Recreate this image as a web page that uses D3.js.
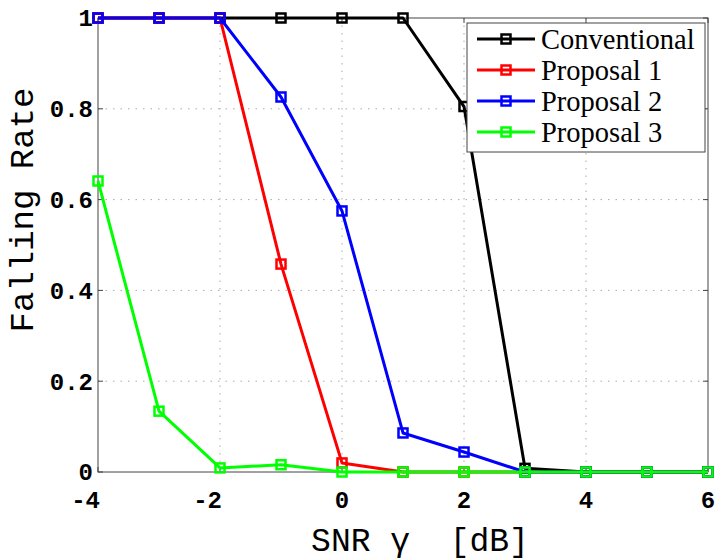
<!DOCTYPE html>
<html>
<head>
<meta charset="utf-8">
<script src="https://cdn.jsdelivr.net/npm/d3@7"></script>
<style>
    body { margin: 0; background: #fff; }
    svg { display: block; }
</style>
</head>
<body>
<div id="chart"></div>
<script>
// SNR values (dB) shared by every series
const snr = [-4, -3, -2, -1, 0, 1, 2, 3, 4, 5, 6];

// Falling rate per method
const conventional = [1, 1, 1, 1, 1, 1, 0.805, 0.008, 0, 0, 0];
const proposal1 = [1, 1, 1, 0.458, 0.02, 0, 0, 0, 0, 0, 0];
const proposal2 = [1, 1, 1, 0.826, 0.575, 0.086, 0.044, 0, 0, 0, 0];
const proposal3 = [0.641, 0.134, 0.009, 0.016, 0, 0, 0, 0, 0, 0, 0];

const seriesNames = ['Conventional', 'Proposal 1', 'Proposal 2', 'Proposal 3'];
const seriesColors = ['#000000', '#ff0000', '#0000ff', '#00ff00'];

const xTicks = [-4, -2, 0, 2, 4, 6];
const yTicks = [0, 0.2, 0.4, 0.6, 0.8, 1];

const Chart = (function() {
    const width = 715;
    const height = 560;
    const margin = { top: 18, right: 7, bottom: 88, left: 98 };
    const monoFont = "'Liberation Mono', 'DejaVu Sans Mono', monospace";
    const serifFont = "'Liberation Serif', 'DejaVu Serif', serif";

    /**
     * Draw the whole figure
     */
    function draw(containerId) {
        const svg = d3.select(`#${containerId}`)
            .append('svg')
            .attr('width', width)
            .attr('height', height);

        const innerW = width - margin.left - margin.right;
        const innerH = height - margin.top - margin.bottom;

        const x = d3.scaleLinear().domain([-4, 6]).range([0, innerW]);
        const y = d3.scaleLinear().domain([0, 1]).range([innerH, 0]);

        const g = svg.append('g')
            .attr('transform', `translate(${margin.left},${margin.top})`);

        // Dotted grid
        g.append('g')
            .selectAll('line')
            .data(xTicks.slice(1, -1))
            .enter()
            .append('line')
            .attr('x1', d => x(d)).attr('x2', d => x(d))
            .attr('y1', 0).attr('y2', innerH)
            .style('stroke', '#aaa')
            .style('stroke-width', 1)
            .style('stroke-dasharray', '1.5,6');

        g.append('g')
            .selectAll('line')
            .data(yTicks.slice(1, -1))
            .enter()
            .append('line')
            .attr('x1', 0).attr('x2', innerW)
            .attr('y1', d => y(d)).attr('y2', d => y(d))
            .style('stroke', '#aaa')
            .style('stroke-width', 1)
            .style('stroke-dasharray', '1.5,6');

        // Box
        g.append('rect')
            .attr('width', innerW)
            .attr('height', innerH)
            .style('fill', 'none')
            .style('stroke', '#444')
            .style('stroke-width', 1);

        // Inward ticks on all four sides
        const ticks = g.append('g').style('stroke', '#444').style('stroke-width', 1);
        xTicks.forEach(t => {
            ticks.append('line').attr('x1', x(t)).attr('x2', x(t)).attr('y1', innerH).attr('y2', innerH - 5);
            ticks.append('line').attr('x1', x(t)).attr('x2', x(t)).attr('y1', 0).attr('y2', 5);
        });
        yTicks.forEach(t => {
            ticks.append('line').attr('x1', 0).attr('x2', 5).attr('y1', y(t)).attr('y2', y(t));
            ticks.append('line').attr('x1', innerW).attr('x2', innerW - 5).attr('y1', y(t)).attr('y2', y(t));
        });

        // Tick labels
        g.append('g')
            .selectAll('text')
            .data(xTicks)
            .enter()
            .append('text')
            .attr('x', d => d < 0 ? x(d) + 2 : x(d))
            .attr('y', innerH + 36)
            .attr('text-anchor', d => d < 0 ? 'end' : 'middle')
            .style('font-family', monoFont)
            .style('font-weight', 'bold')
            .style('font-size', '24px')
            .text(d => d);

        g.append('g')
            .selectAll('text')
            .data(yTicks)
            .enter()
            .append('text')
            .attr('x', -5)
            .attr('y', d => y(d))
            .attr('dy', '0.35em')
            .attr('text-anchor', 'end')
            .style('font-family', monoFont)
            .style('font-weight', 'bold')
            .style('font-size', '24px')
            .text(d => d3.format('~g')(d));

        // Axis labels
        svg.append('text')
            .attr('x', 420)
            .attr('y', 551)
            .attr('text-anchor', 'middle')
            .attr('xml:space', 'preserve')
            .style('white-space', 'pre')
            .style('font-family', monoFont)
            .style('font-size', '33px')
            .text('SNR γ  [dB]');

        svg.append('text')
            .attr('transform', 'translate(33,210) rotate(-90)')
            .attr('text-anchor', 'middle')
            .style('font-family', monoFont)
            .style('font-size', '34px')
            .text('Falling Rate');

        // Series
        const allSeries = [conventional, proposal1, proposal2, proposal3];
        const line = d3.line()
            .x((d, i) => x(snr[i]))
            .y(d => y(d));

        allSeries.forEach((values, k) => {
            const s = g.append('g');
            s.append('path')
                .datum(values)
                .attr('d', line)
                .style('fill', 'none')
                .style('stroke', seriesColors[k])
                .style('stroke-width', 3)
                .style('stroke-linejoin', 'round');

            s.selectAll('rect')
                .data(values)
                .enter()
                .append('rect')
                .attr('x', (d, i) => x(snr[i]) - 4.5)
                .attr('y', d => y(d) - 4.5)
                .attr('width', 9)
                .attr('height', 9)
                .style('fill', 'none')
                .style('stroke', seriesColors[k])
                .style('stroke-width', 2.5);
        });

        drawLegend(svg);
    }

    /**
     * Legend box in the upper right corner
     */
    function drawLegend(svg) {
        const lg = svg.append('g').attr('transform', 'translate(467,23)');

        lg.append('rect')
            .attr('width', 238)
            .attr('height', 129)
            .style('fill', '#fff')
            .style('stroke', '#444')
            .style('stroke-width', 1);

        const rows = lg.selectAll('.legend-row')
            .data(seriesNames)
            .enter()
            .append('g')
            .attr('class', 'legend-row')
            .attr('transform', (d, i) => `translate(0,${16 + i * 31})`);

        rows.append('line')
            .attr('x1', 10).attr('x2', 68)
            .style('stroke', (d, i) => seriesColors[i])
            .style('stroke-width', 3);

        rows.append('rect')
            .attr('x', 34.5).attr('y', -4.5)
            .attr('width', 9).attr('height', 9)
            .style('fill', 'none')
            .style('stroke', (d, i) => seriesColors[i])
            .style('stroke-width', 2.5);

        rows.append('text')
            .attr('x', 74)
            .attr('y', 10)
            .style('font-family', serifFont)
            .style('font-size', '28.5px')
            .text(d => d);
    }

    return { draw };
})();

Chart.draw('chart');
</script>
</body>
</html>
